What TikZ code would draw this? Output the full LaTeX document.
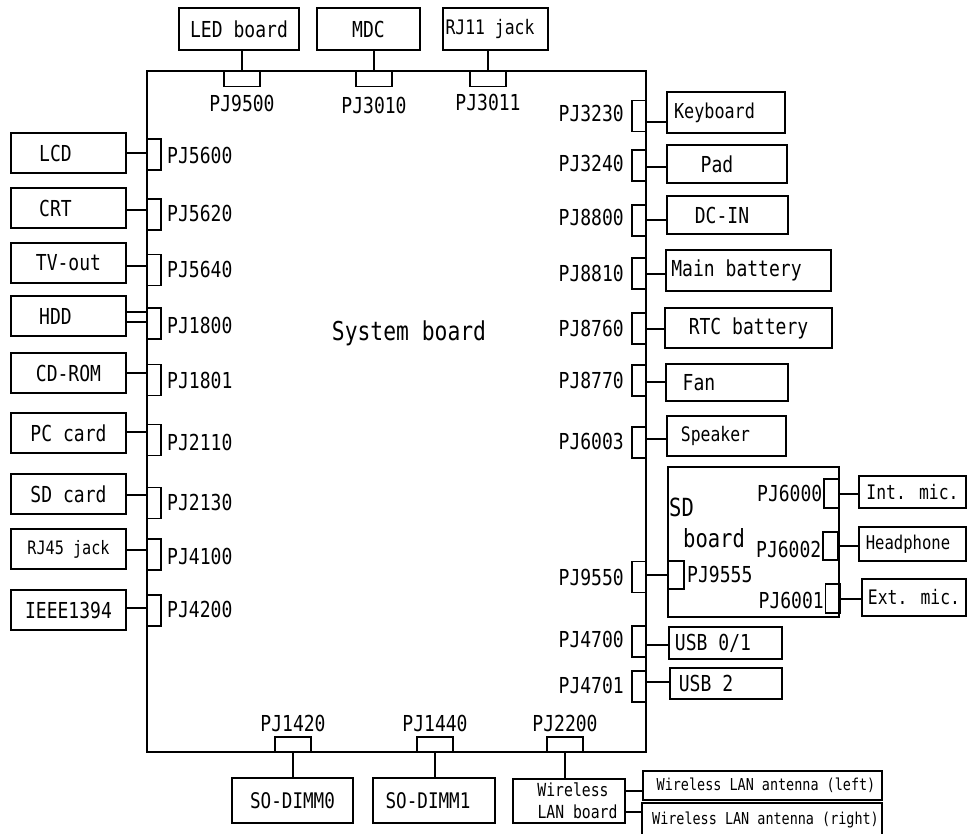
\documentclass[tikz,border=0pt]{standalone}
\usepackage{fontspec}
\newfontfamily\gothic[FakeStretch=0.82]{DejaVu Sans Mono}
\newcommand{\txtsize}[1]{\fontsize{#1}{#1}\selectfont}
\tikzset{
  unitbox/.style={draw, line width=1.9pt, inner sep=0pt, font=\gothic\txtsize{22}},
  jack/.style={draw, line width=1.6pt, inner sep=0pt, minimum width=14pt, minimum height=31pt},
  hjack/.style={draw, line width=1.6pt, inner sep=0pt, minimum width=36pt, minimum height=15pt},
  pjlabel/.style={inner sep=0pt, font=\gothic\txtsize{22}},
  wire/.style={line width=2pt},
}
\begin{document}
\begin{tikzpicture}[x=1pt, y=-1pt]
\useasboundingbox (0,0) rectangle (968,834);

% --- System board ---
\node[draw, line width=1.9pt, inner sep=0pt, minimum width=499pt, minimum height=681pt] (sysb) at (396.5,411.5) {};
\node[inner sep=0pt, font=\gothic\txtsize{26}] (sysname) at (409,333) {System board};

% --- Top: box / jack / x / label y ---
\foreach \nm/\txt/\pj/\bx/\bw/\jx/\ly/\sz in {
    ledb/LED board/9500/239/120/242/103/22,
    mdc/MDC/3010/368.5/103/374/105/22,
    rjeleven/RJ11 jack\kern11pt/3011/495.5/105/488/102/20} {
  \node[unitbox, minimum width=\bw pt, minimum height=42pt, font=\gothic\txtsize{\sz}] (\nm) at (\bx,29) {\txt};
  \node[hjack] (pj\pj) at (\jx,79) {};
  \node[pjlabel] (lab\pj) at (\jx,\ly) {PJ\pj};
  \draw[wire] (pj\pj.north) -- (pj\pj.north |- \nm.south);
}

% --- Left side ---
\foreach \nm/\txt/\pj/\by/\jy/\ly/\sz/\wl in {
    lcd/LCD\kern26pt/5600/153/154.5/155/22/{0},
    crt/CRT\kern26pt/5620/208/214.5/213/22/{-2},
    tvout/TV-out/5640/263/270/269/22/{-3},
    hdd/HDD\kern26pt/1800/316/323.5/325/22/{4,-6},
    cdrom/CD-ROM/1801/373/380/380/22/{0},
    pccard/PC card/2110/433/440/442/22/{1},
    sdcard/SD card/2130/494/503/502/22/{-1},
    rjfortyfive/RJ45 jack/4100/549/554.5/556/18.5/{-1},
    ieee/IEEE1394/4200/610/610.5/609/22/{2}} {
  \node[unitbox, minimum width=115pt, minimum height=40pt, font=\gothic\txtsize{\sz}] (\nm) at (68.5,\by) {\txt};
  \node[jack] (pj\pj) at (154,\jy) {};
  \node[pjlabel, anchor=west] (lab\pj) at (167,\ly) {PJ\pj};
  \foreach \w in \wl {
    \draw[wire] ([yshift=\w pt]\nm.east) -- ([yshift=\w pt]\nm.east -| pj\pj.west);
  }
}

% --- Right side ---
\foreach \nm/\txt/\pj/\bx/\by/\bw/\bh/\jy/\ly/\w/\sz in {
    kbd/Keyboard\kern23pt/3230/726/112.5/118/41/116/113/-6/20.5,
    pad/Pad\kern20pt/3240/727/164/120/38/165.5/163/-1.5/22,
    dcin/DC-IN\kern11pt/8800/727.5/215/121/38/220.5/217/0/22,
    mainbat/Main battery\kern24pt/8810/748.5/270.5/165/41/273.5/273/0/22,
    rtcbat/RTC battery/8760/748.5/328/167/40/328.5/328/0/22,
    fan/Fan\kern56pt/8770/727/382.5/122/37/380.5/380/-1.5/22,
    speaker/Speaker\kern22pt/6003/726.5/436/119/40/442.5/441/3.5/20,
    usbzero/{USB 0/1\kern25pt}/4700/725.5/643/113/32/641.5/639/-3.5/22,
    usbtwo/USB 2\kern40pt/4701/726/683.5/112/31/686.5/685/4.5/22} {
  \node[unitbox, minimum width=\bw pt, minimum height=\bh pt, font=\gothic\txtsize{\sz}] (\nm) at (\bx,\by) {\txt};
  \node[jack] (pj\pj) at (639,\jy) {};
  \node[pjlabel, anchor=east] (lab\pj) at (624,\ly) {PJ\pj};
  \draw[wire] ([yshift=\w pt]pj\pj.east) -- ([yshift=\w pt]pj\pj.east -| \nm.west);
}

% --- SD board ---
\node[jack] (pj9550) at (639,577) {};
\node[pjlabel, anchor=east] (lab9550) at (624,577) {PJ9550};
\node[draw, line width=1.9pt, inner sep=0pt, minimum width=171pt, minimum height=150pt] (sdb) at (753.5,542) {};
\node[inner sep=0pt, anchor=west, font=\gothic\txtsize{25}] (sdname) at (669,507) {SD};
\node[inner sep=0pt, anchor=west, font=\gothic\txtsize{25}] (sdboard) at (683,538) {board};
\node[jack, minimum width=16pt, minimum height=28pt] (pj9555) at (676,575) {};
\node[pjlabel, anchor=west] (lab9555) at (687,574) {PJ9555};
\draw[wire] (pj9555.west) -- (pj9555.west -| pj9550.east);

\foreach \pj/\nm/\txt/\jx/\jy/\jh/\ly/\bx/\by/\bw/\bh/\sz in {
    6000/intmic/Int. mic./831.5/493.5/29/493/912.5/492/107/32/20,
    6002/headph/Headphone\kern9pt/830.5/546/28/549/912.5/544/107/34/19,
    6001/extmic/Ext. mic./833/598.5/29/600/914/597.5/104/37/20} {
  \node[jack, minimum width=15pt, minimum height=\jh pt] (pj\pj) at (\jx,\jy) {};
  \node[pjlabel, anchor=east] (lab\pj) at ({\jx-9},\ly) {PJ\pj};
  \node[unitbox, minimum width=\bw pt, minimum height=\bh pt, font=\gothic\txtsize{\sz}] (\nm) at (\bx,\by) {\txt};
  \draw[wire] (pj\pj.east) -- (pj\pj.east -| \nm.west);
}

% --- Bottom ---
\foreach \nm/\txt/\pj/\jx/\bx/\bw in {
    dimmzero/SO-DIMM0/1420/293/292.5/121,
    dimmone/SO-DIMM1\kern12pt/1440/435/434/122} {
  \node[hjack] (pj\pj) at (\jx,744.5) {};
  \node[pjlabel] (lab\pj) at (\jx,723) {PJ\pj};
  \node[unitbox, minimum width=\bw pt, minimum height=45pt, font=\gothic\txtsize{21.5}] (\nm) at (\bx,800.5) {\txt};
  \draw[wire] (pj\pj.south) -- (pj\pj.south |- \nm.north);
}

\node[hjack] (pj2200) at (565,744.5) {};
\node[pjlabel] (lab2200) at (565,723) {PJ2200};
\node[unitbox, minimum width=112pt, minimum height=44pt, align=center, font=\gothic\fontsize{18}{22}\selectfont] (wlanb) at (569,801) {\kern8pt Wireless\\\kern17pt LAN board};
\draw[wire] (pj2200.south) -- (pj2200.south |- wlanb.north);

% --- Antennas ---
\node[unitbox, minimum width=239pt, minimum height=29pt, font=\gothic\txtsize{16.4}] (antl) at (762.5,785.5) {\kern7pt Wireless LAN antenna (left)};
\node[unitbox, minimum width=240pt, minimum height=33pt, font=\gothic\txtsize{16.4}] (antr) at (762,819.5) {\kern7pt Wireless LAN antenna (right)};
\draw[wire] ([yshift=10pt]wlanb.east) -- ([yshift=10pt]wlanb.east -| antl.west);
\draw[wire] ([yshift=-11pt]wlanb.east) -- ([yshift=-11pt]wlanb.east -| antr.west);

\end{tikzpicture}
\end{document}
